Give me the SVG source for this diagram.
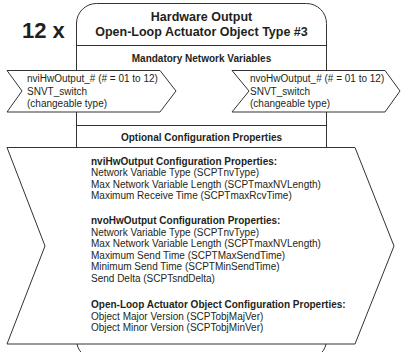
<svg xmlns="http://www.w3.org/2000/svg" width="401" height="352" viewBox="0 0 401 352">
<style>
.ln{fill:#fff;stroke:#333;stroke-width:1}
.dv{stroke:#333;stroke-width:1;fill:none}
text{font-family:"Liberation Sans",Arial,sans-serif;fill:#231f20}
.b{font-weight:bold}
.t{font-size:12.5px;font-weight:bold}
.s{font-size:10px}
</style>
<rect width="401" height="352" fill="#fff"/>
<text x="22" y="38" class="b" style="font-size:22px">12 x</text>
<g id="object-box">
<path class="ln" d="M76.5 340 V23 A20 20 0 0 1 96.5 3.5 H306.5 A20 20 0 0 1 326.5 23.5 V340 A19 19 0 0 1 307.5 359 H95.5 A19 19 0 0 1 76.5 340 Z"/>
<line class="dv" x1="76.5" y1="45.5" x2="326.5" y2="45.5"/>
<line class="dv" x1="76.5" y1="125.5" x2="326.5" y2="125.5"/>
<text x="201.5" y="21" class="t" text-anchor="middle">Hardware Output</text>
<text x="201.5" y="36" class="t" text-anchor="middle">Open-Loop Actuator Object Type #3</text>
<text x="201.5" y="62" class="s b" text-anchor="middle">Mandatory Network Variables</text>
<text x="201.5" y="141" class="s b" text-anchor="middle">Optional Configuration Properties</text>
</g>
<g id="nviHwOutput">
<polygon class="ln" points="7,70.5 160,70.5 176,91 160,112 7,112 22,91"/>
<text x="27" y="82" class="s">nviHwOutput_# (# = 01 to 12)</text>
<text x="27" y="94.5" class="s">SNVT_switch</text>
<text x="27" y="107" class="s">(changeable type)</text>
</g>
<g id="nvoHwOutput">
<polygon class="ln" points="232,70.5 385,70.5 400,91 385,112 232,112 249,91"/>
<text x="250" y="82" class="s">nvoHwOutput_# (# = 01 to 12)</text>
<text x="250" y="94.5" class="s">SNVT_switch</text>
<text x="250" y="107" class="s">(changeable type)</text>
</g>
<g id="config-properties">
<polygon class="ln" points="7,147.5 355,147.5 394,246 355,344 7,344 45,246"/>
<g class="s">
<text x="91" y="164.5" class="b">nviHwOutput Configuration Properties:</text>
<text x="91" y="176">Network Variable Type (SCPTnvType)</text>
<text x="91" y="187.5">Max Network Variable Length (SCPTmaxNVLength)</text>
<text x="91" y="199">Maximum Receive Time (SCPTmaxRcvTime)</text>
<text x="91" y="224" class="b">nvoHwOutput Configuration Properties:</text>
<text x="91" y="235.5">Network Variable Type (SCPTnvType)</text>
<text x="91" y="247">Max Network Variable Length (SCPTmaxNVLength)</text>
<text x="91" y="258.5">Maximum Send Time (SCPTMaxSendTime)</text>
<text x="91" y="270">Minimum Send Time (SCPTMinSendTime)</text>
<text x="91" y="281.5">Send Delta (SCPTsndDelta)</text>
<text x="91" y="308" class="b">Open-Loop Actuator Object Configuration Properties:</text>
<text x="91" y="319.5">Object Major Version (SCPTobjMajVer)</text>
<text x="91" y="331">Object Minor Version (SCPTobjMinVer)</text>
</g>
</g>
<g id="connectors"/>
</svg>
